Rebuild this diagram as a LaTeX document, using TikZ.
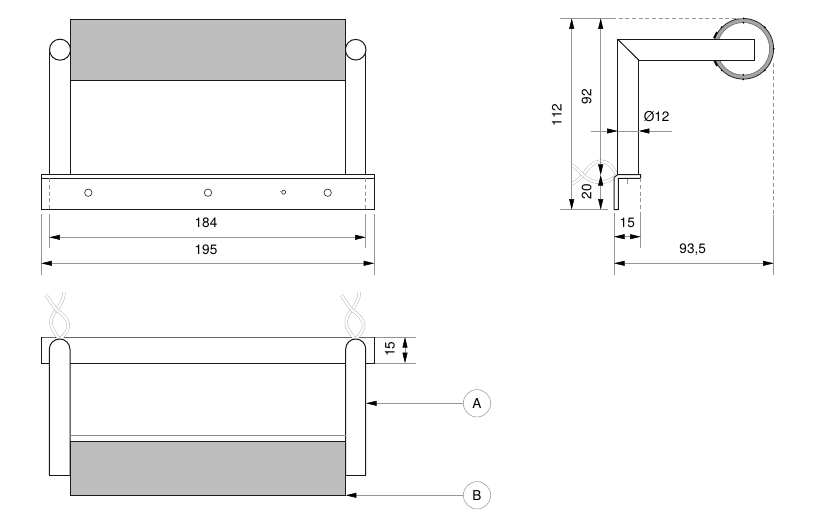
\documentclass[tikz,border=0pt]{standalone}
\usepackage{fontspec}
\setmainfont{TeX Gyre Heros}
\usetikzlibrary{arrows.meta}

\definecolor{padGrey}{RGB}{190,190,190}
\definecolor{ringGrey}{RGB}{165,165,165}
\definecolor{dimGrey}{RGB}{150,150,150}
\tikzset{every picture/.style={line width=0.75pt}}
\tikzset{
	part/.style={draw=black!90,line width=0.75pt},
	pad/.style={part,fill=padGrey},
	hole/.style={draw=black!80,line width=0.5pt,fill=white},
	dimline/.style={draw=dimGrey,line width=0.4pt},
	hidden/.style={dimline,dash pattern=on 3pt off 2pt},
	dimarrow/.style={dimline,{Triangle[length=8pt,width=3.75pt,color=black]}-{Triangle[length=8pt,width=3.75pt,color=black]}},
	leader/.style={dimline,-{Triangle[length=8pt,width=3.75pt,color=black]}},
	rope/.style={draw=black!30,double=white,double distance=1.7pt,line width=0.35pt},
	dimtext/.style={font=\fontsize{10.2}{12}\selectfont,inner sep=0pt},
	callout/.style={circle,draw=dimGrey,line width=0.4pt,minimum size=20.5pt,inner sep=0pt,font=\fontsize{10.2}{12}\selectfont}
}

\begin{document}
\begin{tikzpicture}[x=0.75pt,y=0.75pt,yscale=-1,xscale=1]
	\path[use as bounding box] (0,0) rectangle (819,515);

	%Front view: posts and pad
	\draw [part] (49.3,174.7) -- (49.3,49.7) ;
	\draw [part] (70,174.7) -- (70,49.7) ;
	\draw [part] (345.7,174.7) -- (345.7,49.7) ;
	\draw [part] (365.7,174.7) -- (365.7,49.7) ;
	\draw [part,fill=white] (60,49.7) circle (10.5) ;
	\draw [part,fill=white] (355.7,49.7) circle (10.3) ;
	\draw [pad] (70,19) rectangle (345.7,80.3) ;

	%Front view: bracket
	\draw [part] (41.3,174.7) rectangle (374.3,209.7) ;
	\draw [part] (41.3,178.3) -- (374.3,178.3) ;
	\foreach \hx in {88.3,208,327.7}
		\draw [hole] (\hx,192.7) circle (3.7) ;
	\draw [hole] (283.7,192.2) circle (2) ;
	\draw [dimline] (279.5,191) -- (282,191) ;
	\draw [hidden] (49.3,178.3) -- (49.3,209.7) ;
	\draw [hidden] (365.7,178.3) -- (365.7,209.7) ;

	%Front view: dimensions
	\draw [dimline] (49.3,214) -- (49.3,248) ;
	\draw [dimline] (365.7,214) -- (365.7,248) ;
	\draw [dimline] (41.3,214) -- (41.3,275) ;
	\draw [dimline] (374.3,214) -- (374.3,275) ;
	\draw [dimarrow] (49.3,237.3) -- (365.7,237.3) ;
	\draw [dimarrow] (41.3,263.3) -- (374.3,263.3) ;
	% Text Node
	\node [dimtext] (dim184) at (206,222.7) {184};
	% Text Node
	\node [dimtext] (dim195) at (206,249.3) {195};

	%Side view: ring
	\fill [ringGrey,even odd rule] (743.3,48.8) circle (30.3) (743.3,48.8) circle (26.3) ;
	\draw [draw=black!85,line width=0.6pt] (743.3,48.8) circle (30.3) ;
	\draw [draw=black!60,line width=0.4pt] (743.3,48.8) circle (26.3) ;
	\foreach \ang in {0,45,90,135,180,225,270,315}
		\fill [black] (743.3,48.8) ++(\ang:30.5) circle (1) ;
	\foreach \ang in {90,270}
		\fill [black] (743.3,48.8) ++(\ang:26) circle (0.9) ;
	\draw [black,line width=1.3pt] (714,38) -- (717,32) ;
	\draw [black,line width=1.3pt] (714,60) -- (717,66) ;

	%Side view: rope
	\draw [rope] (617,175) .. controls (607,156) and (595,157) .. (583,175) .. controls (579,180) and (575,182) .. (572,184) ;
	\draw [rope] (617,175) .. controls (607,184) and (595,186) .. (583,175) .. controls (579,171) and (575,167) .. (572,165) ;
	\draw [dimline] (627.5,163) -- (627.5,184) ;

	%Side view: tube
	\draw [part,fill=white] (617.7,174.7) -- (617.7,39.3) -- (754,39.3) -- (754,60) -- (638.7,60) -- (638.7,174.7) ;
	\draw [part] (617.7,39.3) -- (638.7,60) ;

	%Side view: bracket
	\draw [part,fill=white] (614,209.7) -- (614,177.5) -- (617.7,174.7) -- (640.7,174.7) -- (640.7,178.3) -- (618.3,178.3) -- (618.3,209.7) -- cycle ;

	%Side view: dimensions
	\draw [dimline] (560,18.3) -- (612,18.3) ;
	\draw [hidden] (612,18.3) -- (743,18.3) ;
	\draw [dimline] (560,209.7) -- (608,209.7) ;
	\draw [hidden] (773.7,63) -- (773.7,214) ;
	\draw [hidden] (640.7,178.3) -- (640.7,213) ;
	\draw [dimline] (640.7,213) -- (640.7,248) ;
	\draw [dimline] (614,213) -- (614,275) ;
	\draw [dimline] (773.7,215) -- (773.7,275) ;
	\draw [dimarrow] (571.7,18.3) -- (571.7,209.7) ;
	\draw [dimarrow] (600.7,18.3) -- (600.7,175) ;
	\draw [dimarrow] (600.7,175) -- (600.7,209.7) ;
	\draw [leader] (590.7,131) -- (617.7,131) ;
	\draw [leader] (672,131) -- (638.7,131) ;
	\draw [dimline] (617.7,131) -- (638.7,131) ;
	\draw [dimarrow] (614,236.7) -- (640.7,236.7) ;
	\draw [dimarrow] (614,263.3) -- (773.7,263.3) ;
	% Text Node
	\node [dimtext,rotate=90] (dim112) at (556.7,115) {112};
	% Text Node
	\node [dimtext,rotate=90] (dim92) at (586.7,96.7) {92};
	% Text Node
	\node [dimtext,rotate=90] (dim20) at (586.7,191.7) {20};
	% Text Node
	\node [dimtext] (dimDia) at (656.7,116.7) {Ø12};
	% Text Node
	\node [dimtext] (dim15side) at (627.3,222.7) {15};
	% Text Node
	\node [dimtext] (dim93) at (692.7,249.3) {93,5};

	%Plan view: bracket, ropes and posts
	\draw [part,draw=black!60] (41.3,337) -- (374.3,337) ;
	\draw [part] (41.3,337) -- (41.3,363.3) -- (374.3,363.3) -- (374.3,337) ;
	\foreach \rx in {60,355.3} {
		\draw [rope] (\rx,339) .. controls (\rx-12,327) and (\rx-11,318) .. (\rx-3.5,310) .. controls (\rx+1,304) and (\rx+4,299) .. (\rx+4,292) ;
		\draw [rope] (\rx,339) .. controls (\rx+13,328) and (\rx+10,319) .. (\rx-3.5,310) .. controls (\rx-7,305) and (\rx-11,300) .. (\rx-14,295) ;
	}
	\draw [part,fill=white] (49.3,475) -- (49.3,349.35) arc (180:360:10.35) -- (70,475) ;
	\draw [part,fill=white] (345.7,475) -- (345.7,349) arc (180:360:10) -- (365.7,475) ;
	\draw [part] (49.3,475) -- (70,475) ;
	\draw [part] (345.7,475) -- (365.7,475) ;

	%Plan view: pad
	\draw [part,draw=black!45] (70,435.3) -- (345.7,435.3) ;
	\draw [pad] (70,441.7) rectangle (345.7,495.3) ;

	%Plan view: dimension
	\draw [dimline] (375,337) -- (416,337) ;
	\draw [dimline] (375,363.3) -- (416,363.3) ;
	\draw [dimarrow] (405,337) -- (405,363.3) ;
	% Text Node
	\node [dimtext,rotate=90] (dim15plan) at (390,349.3) {15};

	%Call-outs
	\node [callout] (markA) at (477,403.3) {A};
	\node [callout] (markB) at (477,495.3) {B};
	\coordinate (postEdge) at (366,403.3);
	\coordinate (padEdge) at (345.7,495.3);
	\draw [leader] (markA) -- (postEdge) ;
	\draw [leader] (markB) -- (padEdge) ;

\end{tikzpicture}
\end{document}
